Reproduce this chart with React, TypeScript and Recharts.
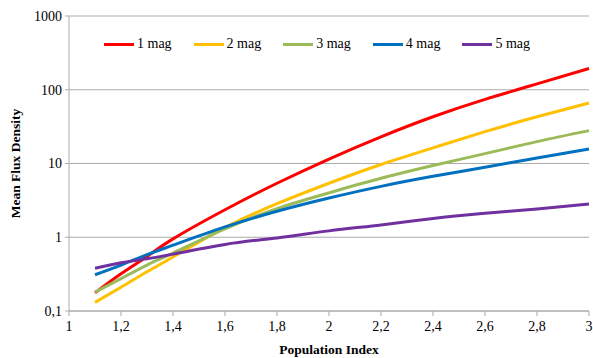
import { CartesianGrid, Legend, Line, LineChart, XAxis, YAxis } from "recharts";

// population index samples along the x axis
const populationIndex = [1.1, 1.2, 1.3, 1.4, 1.6, 1.8, 2.0, 2.2, 2.4, 2.6, 2.8, 3.0];

// mean flux density per magnitude
const mag1 = [0.176, 0.32, 0.55, 0.95, 2.36, 5.4, 11.5, 23, 43, 74, 120, 194];
const mag2 = [0.131, 0.21, 0.34, 0.54, 1.35, 2.85, 5.4, 9.7, 16.3, 27, 43, 66];
const mag3 = [0.18, 0.275, 0.42, 0.61, 1.3, 2.45, 4.0, 6.3, 9.4, 13.6, 19.8, 27.9];
const mag4 = [0.31, 0.42, 0.58, 0.78, 1.38, 2.25, 3.4, 4.9, 6.7, 8.9, 11.9, 15.7];
const mag5 = [0.38, 0.45, 0.51, 0.59, 0.8, 0.98, 1.22, 1.47, 1.8, 2.12, 2.42, 2.82];

const seriesNames = ["1 mag", "2 mag", "3 mag", "4 mag", "5 mag"];
const seriesValues = [mag1, mag2, mag3, mag4, mag5];
const seriesColors = ["#FF0000", "#FFC000", "#9BBB59", "#0070C0", "#7030A0"];

const xTicks = [1, 1.2, 1.4, 1.6, 1.8, 2, 2.2, 2.4, 2.6, 2.8, 3];
const yTicks = [0.1, 1, 10, 100, 1000];

const rows = populationIndex.map((x, i) => {
  const row: Record<string, number> = { x };
  seriesNames.forEach((name, s) => {
    row[name] = seriesValues[s][i];
  });
  return row;
});

const font = '"Liberation Serif", "DejaVu Serif", serif';
const gray = "#ABABAB";
const comma = (v: number) => String(v).replace(".", ",");

// force the serif face on every svg text and legend node
const css = `.flux-chart, .flux-chart * { font-family: ${font} !important; }`;

function LegendRow() {
  return (
    <div style={{ display: "flex", alignItems: "center", fontSize: 14, color: "#000", lineHeight: "16px" }}>
      {seriesNames.map((name, i) => (
        <div key={name} style={{ display: "flex", alignItems: "center", marginRight: 22 }}>
          <div style={{ width: 30, height: 3, background: seriesColors[i], marginRight: 3 }} />
          <span>{name}</span>
        </div>
      ))}
    </div>
  );
}

export default function App() {
  return (
    <div className="flux-chart" style={{ position: "absolute", left: 0, top: 0, width: 593, height: 358, background: "#fff" }}>
      <style>{css}</style>
      <LineChart width={593} height={358} data={rows} margin={{ top: 16, right: 4, bottom: 0, left: 0 }}>
        <CartesianGrid vertical={false} stroke={gray} strokeWidth={1} />
        <XAxis
          dataKey="x"
          type="number"
          domain={[1, 3]}
          ticks={xTicks}
          tickFormatter={comma}
          height={47}
          stroke={gray}
          tickSize={5}
          tickMargin={5}
          tick={{ fill: "#000", fontSize: 14 }}
          label={{
            content: (props: any) => {
              const vb = props.viewBox || {};
              return (
                <text x={vb.x + vb.width / 2} y={354} textAnchor="middle" fontSize={13.5} fontWeight="bold" fill="#000">
                  Population Index
                </text>
              );
            },
          }}
        />
        <YAxis
          scale="log"
          domain={[0.1, 1000]}
          ticks={yTicks}
          allowDataOverflow
          tickFormatter={comma}
          width={69}
          stroke={gray}
          tickSize={4}
          tickMargin={3}
          tick={{ fill: "#000", fontSize: 14 }}
          label={{
            content: (props: any) => {
              const vb = props.viewBox || {};
              const cx = 15;
              const cy = vb.y + vb.height / 2;
              return (
                <text
                  x={cx}
                  y={cy}
                  transform={`rotate(-90 ${cx} ${cy})`}
                  textAnchor="middle"
                  dominantBaseline="central"
                  fontSize={13.5}
                  fontWeight="bold"
                  fill="#000"
                >
                  Mean Flux Density
                </text>
              );
            },
          }}
        />
        <Legend
          layout="horizontal"
          verticalAlign="middle"
          align="center"
          content={() => <LegendRow />}
          wrapperStyle={{ top: 36, left: 104, width: "auto" }}
        />
        {seriesNames.map((name, i) => (
          <Line
            key={name}
            dataKey={name}
            type="natural"
            stroke={seriesColors[i]}
            strokeWidth={3}
            dot={false}
            isAnimationActive={false}
          />
        ))}
      </LineChart>
    </div>
  );
}
